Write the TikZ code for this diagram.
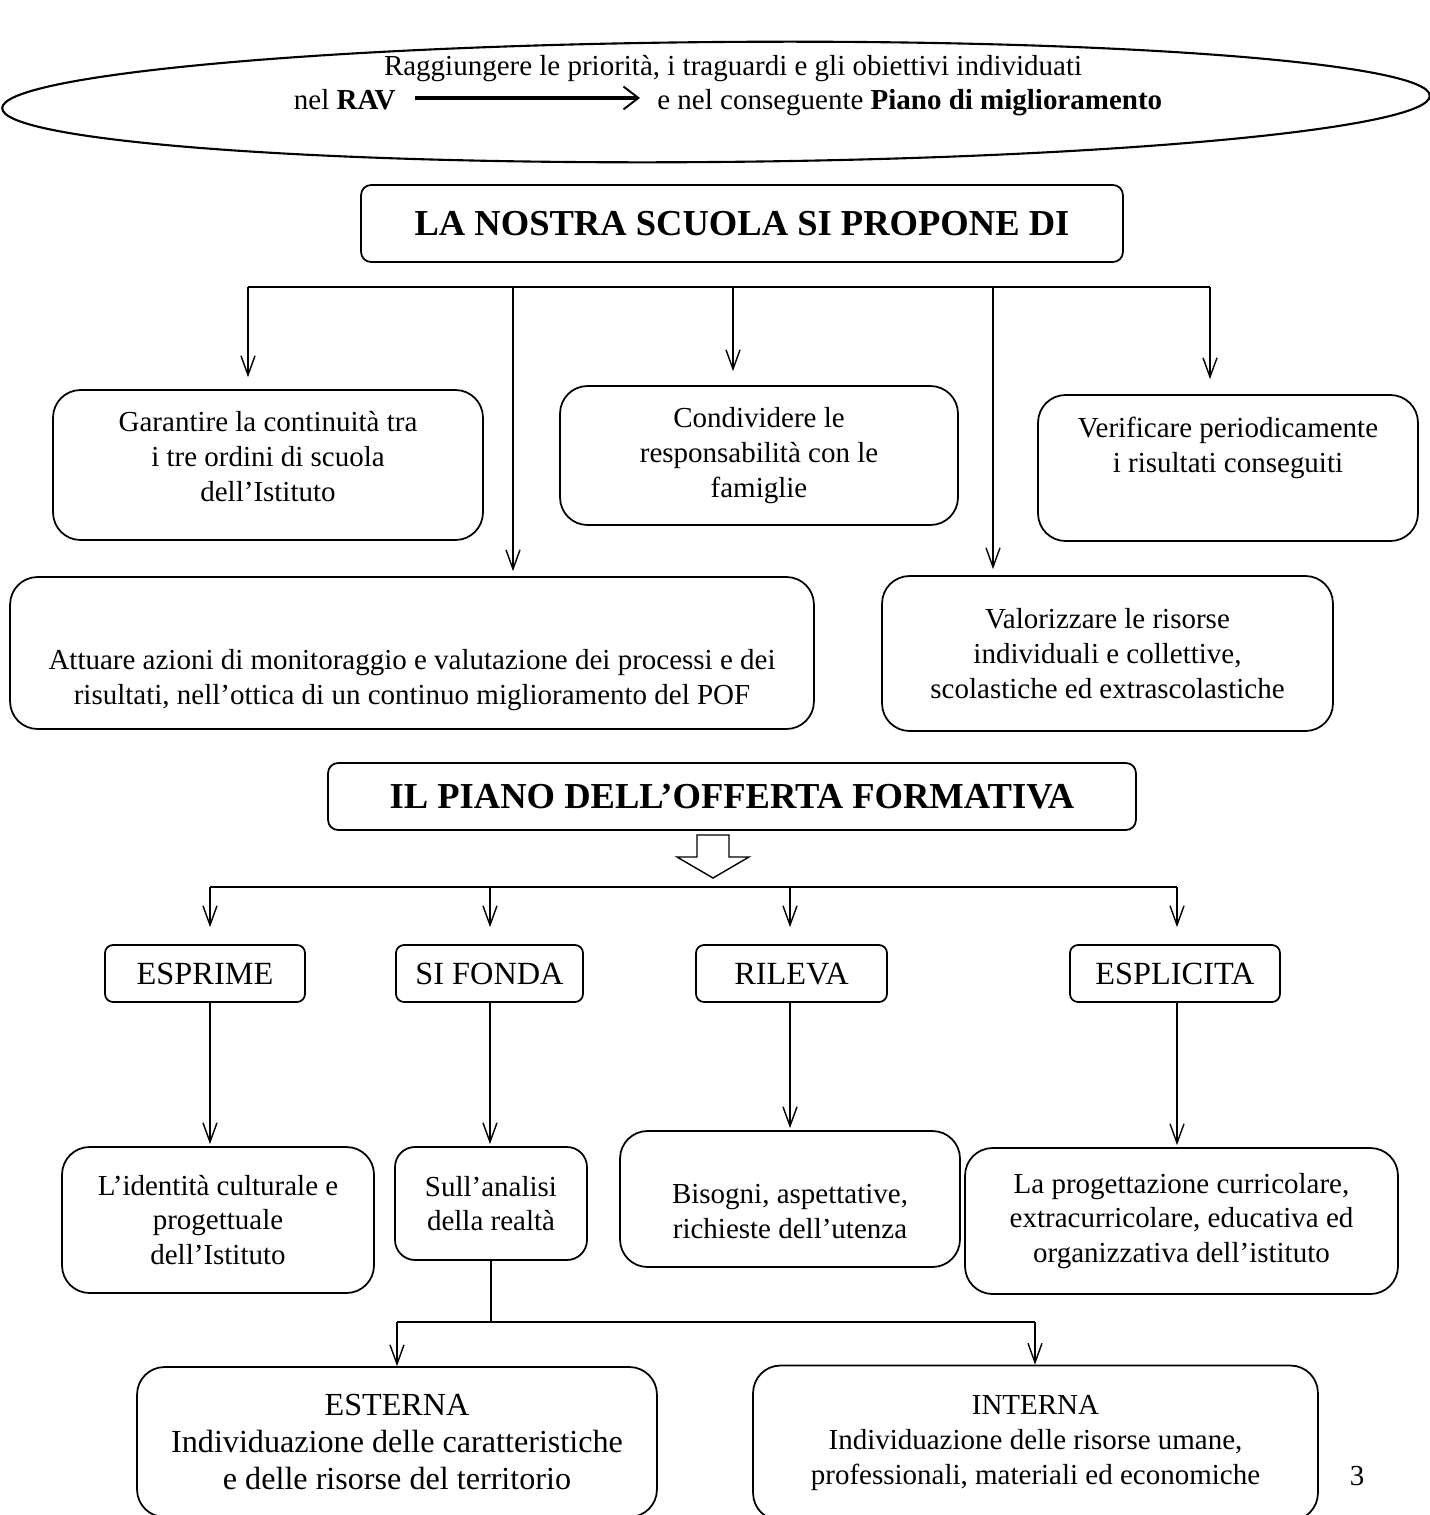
\documentclass[tikz,border=0pt]{standalone}
\usepackage{fontspec}
\setmainfont{Liberation Serif}
\usepackage{tikz}
\usetikzlibrary{calc}
\usetikzlibrary{positioning}
\usetikzlibrary{arrows.meta}
\usetikzlibrary{shapes.geometric}
\newcommand{\liftlines}[2]{\raisebox{#1}[0pt][0pt]{\begin{tabular}{@{}c@{}}#2\end{tabular}}}

\begin{document}
\begin{tikzpicture}[x=0.02cm, y=-0.02cm,
	txt/.style={font=\fontsize{16.5}{19.8}\selectfont, align=center},
	box/.style={draw, line width=1pt, rounded corners=0.55cm, inner sep=0pt, txt},
	headbox/.style={draw, line width=1pt, rounded corners=0.2cm, inner sep=0pt, font=\bfseries\fontsize{20.8}{25}\selectfont},
	verbbox/.style={draw, line width=1pt, rounded corners=0.16cm, inner sep=0pt, minimum height=1.14cm, text height=12.5pt, text depth=0pt, font=\fontsize{18.4}{22}\selectfont},
	arr/.style={line width=0.8pt, -{Straight Barb[length=11pt,width=8pt]}},
	link/.style={line width=0.8pt},
	]
	
	\useasboundingbox (0,0) rectangle (1430,1515);
	
	\node[draw, ellipse, line width=1.2pt, minimum width=28.56cm, minimum height=2.4cm, rotate=0.5] (goal) at (716,102) {};
	\node[txt, anchor=base] (goal1) at (733,75) {Raggiungere le priorità, i traguardi e gli obiettivi individuati};
	\node[txt, anchor=base east, inner sep=0pt, text height=12pt, text depth=4pt] (rav) at (396,109) {nel \textbf{RAV}};
	\node[txt, anchor=base west, inner sep=0pt, text height=12pt, text depth=4pt] (pdm) at (657,109) {e nel conseguente \textbf{Piano di miglioramento}};
	\draw[line width=1.9pt, -{Straight Barb[length=8.5pt,width=13pt,line width=1.1pt]}, shorten <=0.38cm, shorten >=0.34cm] ($(rav.east)+(0,-4)$) -- ($(pdm.west)+(0,-4)$);
	
	\node[headbox, minimum width=15.24cm, minimum height=1.54cm] (propone) at (742,223.5) {LA NOSTRA SCUOLA SI PROPONE DI};
	
	\coordinate (t1) at (248,287);
	\coordinate (t2) at (513,287);
	\coordinate (t3) at (733,287);
	\coordinate (t4) at (993,287);
	\coordinate (t5) at (1210,287);
	
	\node[box, minimum width=8.6cm, minimum height=3cm] (garantire) at (268,465) {\liftlines{-1.2pt}{Garantire la continuità tra\\i tre ordini di scuola\\dell’Istituto}};
	\node[box, minimum width=7.96cm, minimum height=2.78cm] (condividere) at (759,455.5) {Condividere le\\responsabilità con le\\famiglie};
	\node[box, minimum width=7.6cm, minimum height=2.92cm] (verificare) at (1228,468) {\liftlines{7pt}{Verificare periodicamente\\i risultati conseguiti}};
	\node[box, minimum width=16.08cm, minimum height=3.04cm] (attuare) at (412,653) {\liftlines{-19.6pt}{Attuare azioni di monitoraggio e valutazione dei processi e dei\\risultati, nell’ottica di un continuo miglioramento del POF}};
	\node[box, minimum width=9.02cm, minimum height=3.1cm] (valorizzare) at (1107.5,653.5) {Valorizzare le risorse\\individuali e collettive,\\scolastiche ed extrascolastiche};
	
	\draw[link] (t1) -- (t5);
	\draw[arr, shorten >=0.24cm] (t1) -- (t1 |- garantire.north);
	\draw[arr, shorten >=0.28cm] (t3) -- (t3 |- condividere.north);
	\draw[arr, shorten >=0.3cm] (t5) -- (t5 |- verificare.north);
	\draw[arr, shorten >=0.1cm] (t2) -- (t2 |- attuare.north);
	\draw[arr, shorten >=0.12cm] (t4) -- (t4 |- valorizzare.north);
	
	\node[headbox, minimum width=16.16cm, minimum height=1.34cm] (piano) at (732,796.5) {IL PIANO DELL’OFFERTA FORMATIVA};
	\draw[link] (697,835) -- (729,835) -- (729,857) -- (749,857) -- (713,878) -- (677,857) -- (697,857) -- cycle;
	
	\coordinate (p1) at (210,887);
	\coordinate (p2) at (490,887);
	\coordinate (p3) at (790,887);
	\coordinate (p4) at (1177,887);
	
	\node[verbbox, minimum width=4cm] (esprime) at (205,973.5) {ESPRIME};
	\node[verbbox, minimum width=3.74cm] (sifonda) at (489.5,973.5) {SI FONDA};
	\node[verbbox, minimum width=3.82cm] (rileva) at (791.5,973.5) {RILEVA};
	\node[verbbox, minimum width=4.2cm] (esplicita) at (1175,973.5) {ESPLICITA};
	
	\draw[link] (p1) -- (p4);
	\foreach \p/\b in {p1/esprime, p2/sifonda, p3/rileva, p4/esplicita}
		\draw[arr, shorten >=0.34cm] (\p) -- (\p |- \b.north);
	
	\node[box, minimum width=6.24cm, minimum height=2.92cm] (identita) at (218,1220) {L’identità culturale e\\progettuale\\dell’Istituto};
	\node[box, rounded corners=0.4cm, minimum width=3.84cm, minimum height=2.26cm] (analisi) at (491,1203.5) {Sull’analisi\\della realtà};
	\node[box, minimum width=6.8cm, minimum height=2.72cm] (bisogni) at (790,1199) {\liftlines{-13pt}{Bisogni, aspettative,\\richieste dell’utenza}};
	\node[box, minimum width=8.66cm, minimum height=2.92cm] (progettazione) at (1181.5,1221) {La progettazione curricolare,\\extracurricolare, educativa ed\\organizzativa dell’istituto};
	
	\foreach \p/\a/\b in {p1/esprime/identita, p2/sifonda/analisi, p3/rileva/bisogni, p4/esplicita/progettazione}
		\draw[arr, shorten >=0.04cm] (\p |- \a.south) -- (\p |- \b.north);
	
	\coordinate (q1) at (397,1322);
	\coordinate (q2) at (1035,1322);
	
	\node[box, minimum width=10.4cm, minimum height=3cm, font=\fontsize{18.3}{21}\selectfont] (esterna) at (397,1442) {ESTERNA\\Individuazione delle caratteristiche\\e delle risorse del territorio};
	\node[box, minimum width=11.3cm, minimum height=3.1cm] (interna) at (1035.5,1443) {INTERNA\\Individuazione delle risorse umane,\\professionali, materiali ed economiche};
	
	\draw[link] (analisi.south) -- (analisi.south |- q1);
	\draw[line width=1.5pt] (q1) -- (q2);
	\draw[arr] (q1) -- (q1 |- esterna.north);
	\draw[arr] (q2) -- (q2 |- interna.north);
	
	\node[txt] (page) at (1357,1476) {3};
	
\end{tikzpicture}
\end{document}
